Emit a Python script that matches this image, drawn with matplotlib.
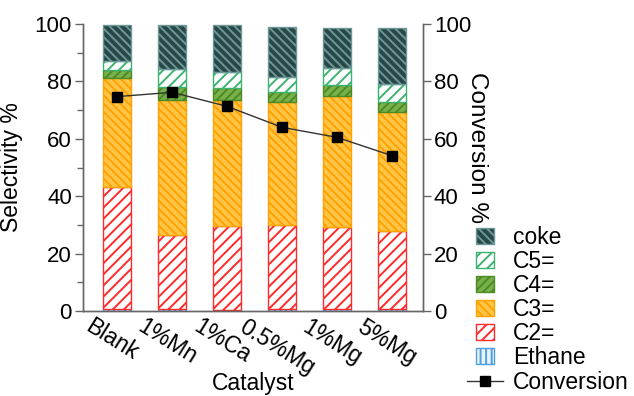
import numpy as np
import matplotlib
matplotlib.use('Agg')
import matplotlib.pyplot as plt
import matplotlib.transforms as mtransforms
from matplotlib.patches import Rectangle
from matplotlib.legend_handler import HandlerPatch

plt.rcParams['font.family'] = ['Liberation Sans', 'DejaVu Sans']
plt.rcParams['hatch.linewidth'] = 1.4

catalysts = ['Blank', '1%Mn', '1%Ca', '0.5%Mg', '1%Mg', '5%Mg']

# selectivity per product (%), stacked bottom to top
ethane = [0.8, 0.6, 0.4, 0.6, 0.6, 0.8]
c2 = [42.4, 26.0, 29.1, 29.3, 28.5, 27.0]
c3 = [37.9, 46.9, 44.1, 43.0, 45.7, 41.6]
c4 = [2.9, 4.6, 4.1, 3.4, 3.9, 3.5]
c5 = [3.2, 6.2, 5.6, 5.3, 5.8, 6.2]
coke = [12.5, 15.4, 16.4, 17.4, 14.2, 19.6]

conversion = [74.7, 76.2, 71.3, 64.0, 60.5, 54.1]

# (label, values, facecolor, hatch/edge colour, hatch)
series = [
    ('Ethane', ethane, '#eaf4fc', '#4f9fe0', '|||'),
    ('C2=', c2, 'white', '#ff2a2a', '///'),
    ('C3=', c3, '#ffc548', '#ffa200', '\\\\\\\\'),
    ('C4=', c4, '#79b04a', '#4b8a25', '////'),
    ('C5=', c5, 'white', '#3cb371', '///'),
    ('coke', coke, '#284848', '#6e9898', '\\\\\\\\'),
]

fig = plt.figure(figsize=(6.34, 3.96), dpi=100)
ax = fig.add_axes([0.131, 0.2146, 0.536, 0.7248])
x = np.arange(len(catalysts))

bottom = np.zeros(len(catalysts))
handles = {}
for label, vals, fc, ec, hatch in series:
    bars = ax.bar(x, vals, 0.5, bottom=bottom, color=fc, edgecolor=ec,
                  hatch=hatch, linewidth=1.0, label=label)
    handles[label] = bars[0]
    bottom += np.array(vals)

ax.set_xlim(-0.62, 5.56)
ax.set_ylim(0, 100)
ax.set_yticks(np.arange(0, 101, 20))
ax.set_yticks(np.arange(10, 100, 20), minor=True)
ax.set_xticks(x)
ax.set_xticklabels(catalysts, rotation=-32, ha='center', va='top', fontsize=16.5)
ax.tick_params(axis='x', length=0, pad=3)
# nudge the slanted category labels a little to the left
shift = mtransforms.ScaledTranslation(-5 / 100, 0, fig.dpi_scale_trans)
for lbl in ax.get_xticklabels():
    lbl.set_transform(lbl.get_transform() + shift)
ax.tick_params(axis='y', which='major', length=6, width=1, color='#666666',
               labelsize=16, pad=2)
ax.tick_params(axis='y', which='minor', length=4, width=1, color='#666666')
ax.set_xlabel('Catalyst', fontsize=16.5, va='center')
ax.xaxis.set_label_coords(0.5, -0.251)
ax.set_ylabel('Selectivity %', fontsize=16.5)
ax.yaxis.set_label_coords(-0.176, 0.5)

ax2 = ax.twinx()
line, = ax2.plot(x, conversion, color='#333333', lw=1, marker='s',
                 markersize=7, markerfacecolor='black', markeredgecolor='black',
                 label='Conversion')
ax2.set_ylim(0, 100)
ax2.set_yticks(np.arange(0, 101, 20))
ax2.tick_params(axis='y', length=6, width=1, color='#666666', labelsize=16, pad=2)
ax2.set_ylabel('Conversion %', fontsize=17.5, rotation=270, va='center', ha='center')
ax2.yaxis.set_label_coords(1.159, 0.571)

for a in (ax, ax2):
    a.spines['top'].set_visible(False)
    for s in ('left', 'right', 'bottom'):
        a.spines[s].set_color('#666666')
        a.spines[s].set_linewidth(1)


def square_patch(legend, orig_handle, xdescent, ydescent, width, height, fontsize):
    w = 0.5 * width
    return Rectangle((-xdescent + (width - w) / 2, -ydescent), w, height)


order = ['coke', 'C5=', 'C4=', 'C3=', 'C2=', 'Ethane']
leg_handles = [handles[k] for k in order] + [line]
leg_labels = order + ['Conversion']
fig.legend(leg_handles, leg_labels, loc='upper left', bbox_to_anchor=(0.737, 0.43),
           frameon=False, fontsize=16.5, borderpad=0, borderaxespad=0,
           handlelength=1.55, handletextpad=0.45, labelspacing=0.05,
           handler_map={Rectangle: HandlerPatch(patch_func=square_patch)})

fig.savefig('out.png', dpi=100)
